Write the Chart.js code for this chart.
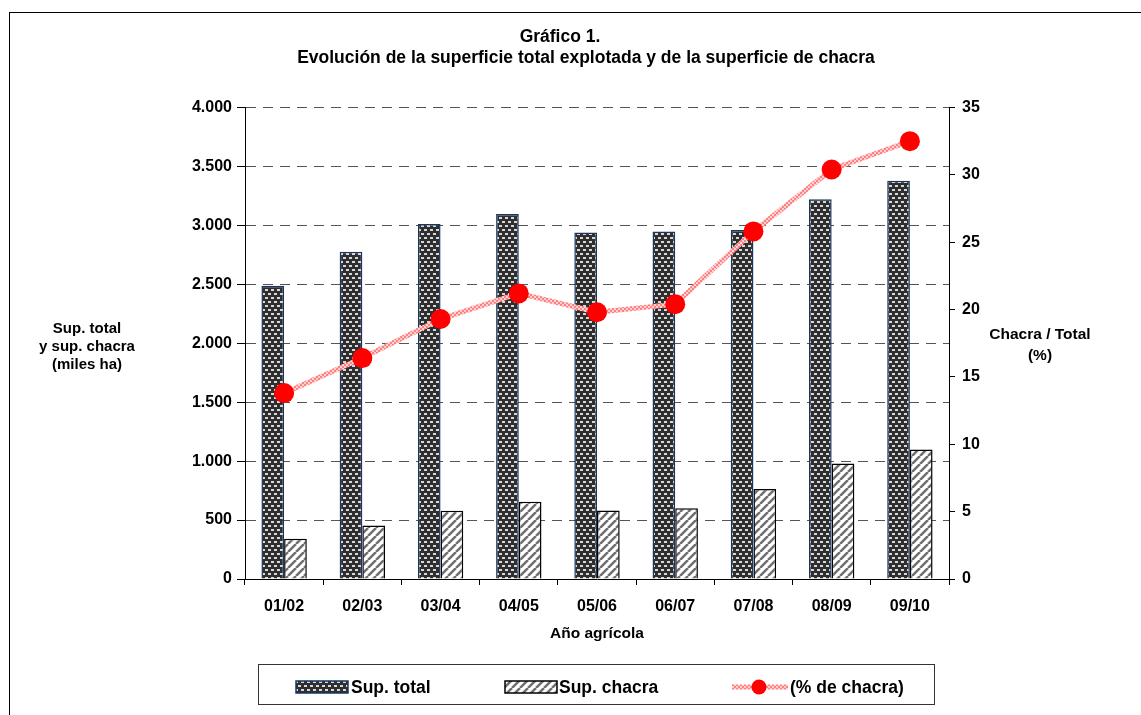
<!DOCTYPE html>
<html>
<head>
<meta charset="utf-8">
<script src="https://cdn.jsdelivr.net/npm/chart.js@4/dist/chart.umd.min.js"></script>
<style>
  body { margin: 0; background: #fff; }
  canvas { display: block; }
</style>
</head>
<body>
<canvas id="grafico" width="1141" height="715"></canvas>
<script>
// datos del gráfico
const categorias = ['01/02', '02/03', '03/04', '04/05', '05/06', '06/07', '07/08', '08/09', '09/10'];
const supTotal = [2487, 2777, 3012, 3097, 2940, 2947, 2961, 3222, 3379];
const supChacra = [342, 454, 579, 655, 582, 600, 764, 979, 1098];
const pctChacra = [13.8, 16.4, 19.3, 21.2, 19.8, 20.4, 25.8, 30.4, 32.5];

const FUENTE = '"Liberation Sans", Arial, sans-serif';

// tramas de relleno
function tramaTotal() {
    var c = document.createElement('canvas');
    c.width = 6; c.height = 8;
    var g = c.getContext('2d');
    g.fillStyle = '#2f2f2f';
    g.fillRect(0, 0, 6, 8);
    g.fillStyle = '#d8d8d8';
    g.fillRect(1, 1, 3, 2);
    g.fillRect(4, 5, 3, 2);
    g.fillRect(-2, 5, 3, 2);
    return g.createPattern(c, 'repeat');
}

function tramaChacra() {
    var c = document.createElement('canvas');
    c.width = 8; c.height = 8;
    var g = c.getContext('2d');
    g.fillStyle = '#ffffff';
    g.fillRect(0, 0, 8, 8);
    g.strokeStyle = '#707070';
    g.lineWidth = 2.5;
    [-8, 0, 8].forEach(function (o) {
        g.beginPath();
        g.moveTo(o, 8);
        g.lineTo(o + 8, 0);
        g.stroke();
    });
    return g.createPattern(c, 'repeat');
}

function tramaLinea() {
    var c = document.createElement('canvas');
    c.width = 4; c.height = 4;
    var g = c.getContext('2d');
    g.fillStyle = '#ffd0d0';
    g.fillRect(0, 0, 4, 4);
    g.fillStyle = '#ff8080';
    g.fillRect(0, 0, 2, 2);
    g.fillRect(2, 2, 2, 2);
    return g.createPattern(c, 'repeat');
}

var pTotal = tramaTotal();
var pChacra = tramaChacra();
var pLinea = tramaLinea();

// fondo, marco, título, títulos de ejes y leyenda
var decorado = {
    id: 'decorado',
    beforeDraw: function (chart) {
        var ctx = chart.ctx;
        ctx.save();
        ctx.fillStyle = '#fff';
        ctx.fillRect(0, 0, chart.width, chart.height);
        ctx.restore();
    },
    afterDraw: function (chart) {
        var ctx = chart.ctx;
        ctx.save();
        // marco exterior
        ctx.strokeStyle = '#000';
        ctx.lineWidth = 1;
        ctx.strokeRect(9.5, 12.5, 1200, 800);

        ctx.fillStyle = '#000';
        ctx.textAlign = 'center';
        ctx.textBaseline = 'middle';

        // título
        ctx.font = 'bold 17.5px ' + FUENTE;
        ctx.fillText('Gráfico 1.', 560, 37);
        ctx.fillText('Evolución de la superficie total explotada y de la superficie de chacra', 586, 58);

        // títulos de los ejes verticales
        ctx.font = 'bold 15px ' + FUENTE;
        ['Sup. total', 'y sup. chacra', '(miles ha)'].forEach(function (t, i) {
            ctx.fillText(t, 87, 329 + i * 18);
        });
        ctx.font = 'bold 15.5px ' + FUENTE;
        ['Chacra / Total', '(%)'].forEach(function (t, i) {
            ctx.fillText(t, 1040, 335 + i * 21);
        });

        // leyenda
        ctx.strokeStyle = '#333';
        ctx.strokeRect(258.5, 664.5, 676, 40);
        var yl = 687;
        ctx.fillStyle = pTotal;
        ctx.fillRect(296, yl - 6, 52, 12);
        ctx.strokeStyle = '#17375e';
        ctx.lineWidth = 1.5;
        ctx.strokeRect(296, yl - 6, 52, 12);

        ctx.fillStyle = pChacra;
        ctx.fillRect(505, yl - 6, 52, 12);
        ctx.strokeStyle = '#000';
        ctx.strokeRect(505, yl - 6, 52, 12);

        ctx.strokeStyle = pLinea;
        ctx.lineWidth = 5;
        ctx.beginPath();
        ctx.moveTo(732, yl);
        ctx.lineTo(788, yl);
        ctx.stroke();
        ctx.fillStyle = '#ff0000';
        ctx.beginPath();
        ctx.arc(759, yl, 7.5, 0, Math.PI * 2);
        ctx.fill();

        ctx.fillStyle = '#000';
        ctx.font = 'bold 17.5px ' + FUENTE;
        ctx.textAlign = 'left';
        ctx.fillText('Sup. total', 351, yl + 1);
        ctx.fillText('Sup. chacra', 559, yl + 1);
        ctx.fillText('(% de chacra)', 790, yl + 1);
        ctx.restore();
    }
};

var ctx = document.getElementById('grafico').getContext('2d');

var config = {
    type: 'bar',
    data: {
        labels: categorias,
        datasets: [
            {
                type: 'line',
                label: '(% de chacra)',
                data: pctChacra,
                yAxisID: 'y1',
                borderColor: pLinea,
                borderWidth: 5,
                tension: 0,
                pointRadius: 10,
                pointBackgroundColor: '#ff0000',
                pointBorderWidth: 0,
                order: 0
            },
            {
                label: 'Sup. total',
                data: supTotal,
                yAxisID: 'y',
                backgroundColor: pTotal,
                borderColor: '#17375e',
                borderWidth: 1.5,
                categoryPercentage: 0.58,
                barPercentage: 1,
                order: 1
            },
            {
                label: 'Sup. chacra',
                data: supChacra,
                yAxisID: 'y',
                backgroundColor: pChacra,
                borderColor: '#000',
                borderWidth: 1.5,
                categoryPercentage: 0.58,
                barPercentage: 1,
                order: 1
            }
        ]
    },
    options: {
        responsive: false,
        animation: false,
        layout: { padding: { left: 0, right: 0, top: 107.5, bottom: 70 } },
        plugins: {
            legend: { display: false },
            tooltip: { enabled: false },
            title: { display: false }
        },
        scales: {
            x: {
                offset: true,
                grid: { drawOnChartArea: false, tickLength: 6, color: '#000', offset: true },
                border: { color: '#000', width: 1 },
                ticks: { color: '#000', padding: 12, font: { family: FUENTE, size: 16, weight: 'bold' } },
                title: {
                    display: true,
                    text: 'Año agrícola',
                    color: '#000',
                    font: { family: FUENTE, size: 15.5, weight: 'bold' },
                    padding: { top: 4, bottom: 2 }
                },
                afterFit: function (s) { s.height = 66; }
            },
            y: {
                position: 'left',
                min: 0,
                max: 4000,
                grid: {
                    color: function (c) { return c.tick && c.tick.value === 0 ? 'rgba(0,0,0,0)' : '#555'; },
                    tickColor: '#000',
                    tickLength: 8,
                    tickBorderDash: []
                },
                border: { color: '#000', width: 1, dash: [10, 7] },
                ticks: {
                    stepSize: 500,
                    color: '#000',
                    padding: 5,
                    font: { family: FUENTE, size: 16, weight: 'bold' },
                    callback: function (v) { return v.toLocaleString('de-DE'); }
                },
                afterFit: function (s) { s.width = 245; }
            },
            y1: {
                position: 'right',
                min: 0,
                max: 35,
                grid: { drawOnChartArea: false, tickColor: '#000', tickLength: 6 },
                border: { color: '#000', width: 1 },
                ticks: {
                    stepSize: 5,
                    color: '#000',
                    padding: 7,
                    font: { family: FUENTE, size: 16, weight: 'bold' }
                },
                afterFit: function (s) { s.width = 192; }
            }
        }
    },
    plugins: [decorado]
};

window.grafico = new Chart(ctx, config);
</script>
</body>
</html>
